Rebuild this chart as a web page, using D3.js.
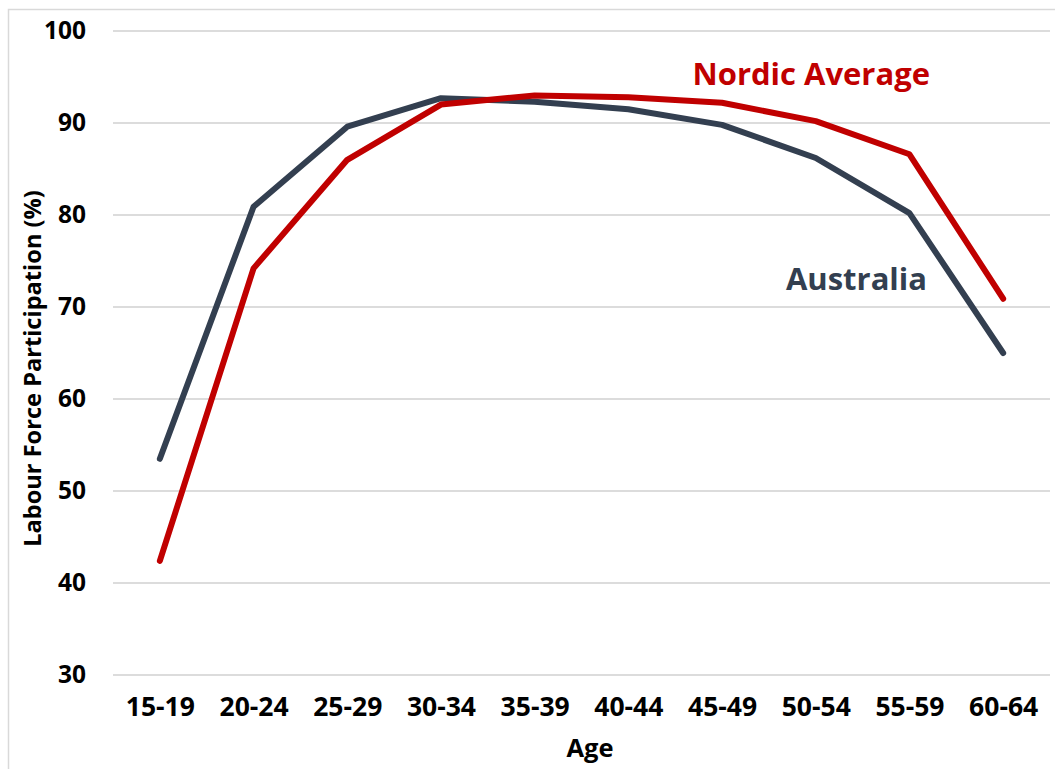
<!DOCTYPE html>
<html>
<head>
<meta charset="utf-8">
<script src="https://cdn.jsdelivr.net/npm/d3@7"></script>
<style>
  html, body { margin: 0; padding: 0; background: #fff; }
  svg { display: block; font-family: "Open Sans", "Liberation Sans", sans-serif; font-weight: 700; }
</style>
</head>
<body>
<svg id="chart" width="1055" height="769"></svg>
<script>
// Labour force participation rate by age group (%)
const ageGroups = ["15-19", "20-24", "25-29", "30-34", "35-39", "40-44", "45-49", "50-54", "55-59", "60-64"];
const australia = [53.5, 80.9, 89.6, 92.7, 92.3, 91.5, 89.8, 86.2, 80.2, 65.0];
const nordicAverage = [42.4, 74.2, 86.0, 92.0, 93.0, 92.8, 92.2, 90.2, 86.6, 70.9];
const yTicks = [30, 40, 50, 60, 70, 80, 90, 100];

const series = [
  { name: "Australia", values: australia, color: "#333f50" },
  { name: "Nordic Average", values: nordicAverage, color: "#c00000" }
];

const svg = d3.select("#chart");
const margin = { top: 31, right: 5, bottom: 94, left: 113 };
const width = 1055 - margin.left - margin.right;
const height = 769 - margin.top - margin.bottom;

// outer chart frame
svg.append("rect")
  .attr("x", 8.5).attr("y", 9.5)
  .attr("width", 1060).attr("height", 780)
  .attr("fill", "none").attr("stroke", "#d9d9d9").attr("stroke-width", 1.5);

const g = svg.append("g").attr("transform", `translate(${margin.left},${margin.top})`);

const x = d3.scalePoint().domain(ageGroups).range([0, width]).padding(0.5);
const y = d3.scaleLinear().domain([30, 100]).range([height, 0]);

// horizontal gridlines
g.append("g")
  .selectAll("line")
  .data(yTicks)
  .join("line")
  .attr("x1", 0).attr("x2", width)
  .attr("y1", d => y(d)).attr("y2", d => y(d))
  .attr("stroke", "#d0d0d0").attr("stroke-width", 1.5);

// y axis
const yAxis = g.append("g")
  .call(d3.axisLeft(y).tickValues(yTicks).tickSize(0).tickPadding(27));
yAxis.select(".domain").remove();
yAxis.selectAll("text")
  .attr("fill", "#000")
  .style("font-size", "24.5px")
  .style("font-family", "\"Open Sans\", sans-serif")
  .style("font-weight", 700);

// x axis
const xAxis = g.append("g")
  .attr("transform", `translate(0,${height})`)
  .call(d3.axisBottom(x).tickSize(0).tickPadding(22));
xAxis.select(".domain").remove();
xAxis.selectAll("text")
  .attr("fill", "#000")
  .style("font-size", "26.5px")
  .style("font-family", "\"Open Sans\", sans-serif")
  .style("font-weight", 700);

// axis titles
svg.append("text")
  .attr("x", 590)
  .attr("y", 757)
  .attr("text-anchor", "middle")
  .style("font-size", "25.5px")
  .text("Age");

svg.append("text")
  .attr("transform", `translate(41,${368.5}) rotate(-90)`)
  .attr("text-anchor", "middle")
  .style("font-size", "23.6px")
  .text("Labour Force Participation (%)");

// series lines
const line = d3.line()
  .x((d, i) => x(ageGroups[i]))
  .y(d => y(d));

g.selectAll("path.series")
  .data(series)
  .join("path")
  .attr("class", "series")
  .attr("d", d => line(d.values))
  .attr("fill", "none")
  .attr("stroke", d => d.color)
  .attr("stroke-width", 6)
  .attr("stroke-linejoin", "round")
  .attr("stroke-linecap", "round");

// series labels
svg.append("text")
  .attr("x", 930).attr("y", 85)
  .attr("text-anchor", "end")
  .attr("fill", "#c00000")
  .style("font-size", "31px")
  .text("Nordic Average");

svg.append("text")
  .attr("x", 927).attr("y", 290)
  .attr("text-anchor", "end")
  .attr("fill", "#333f50")
  .style("font-size", "31px")
  .text("Australia");
</script>
</body>
</html>
